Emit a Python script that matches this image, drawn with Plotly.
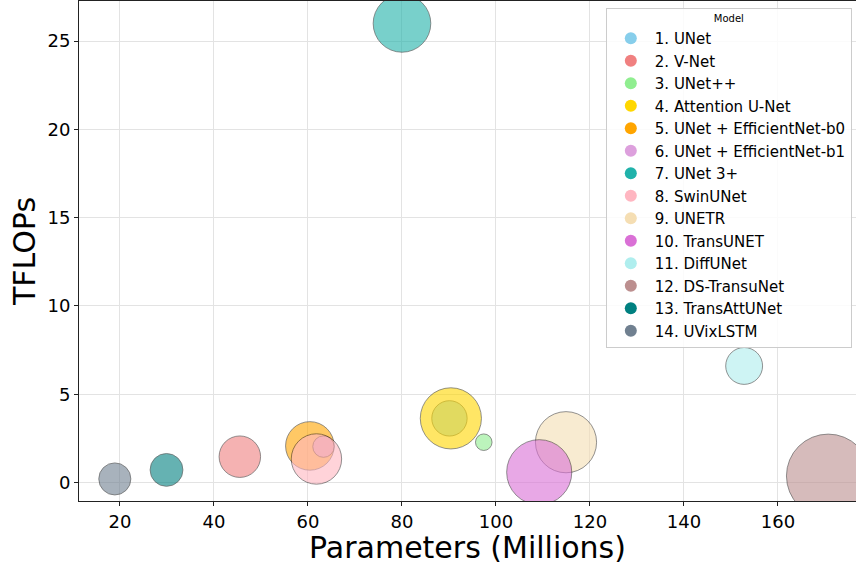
import plotly.graph_objects as go

models = ["1. UNet", "2. V-Net", "3. UNet++", "4. Attention U-Net",
          "5. UNet + EfficientNet-b0", "6. UNet + EfficientNet-b1", "7. UNet 3+",
          "8. SwinUNet", "9. UNETR", "10. TransUNET", "11. DiffUNet",
          "12. DS-TransuNet", "13. TransAttUNet", "14. UVixLSTM"]
params_m = [90.1, 45.5, 97.4, 90.4, 60.4, 63.3, 80.0, 61.8, 114.9, 109.2, 152.8, 170.7, 29.9, 18.9]
tflops = [3.63, 1.46, 2.28, 3.63, 2.07, 2.03, 26.0, 1.33, 2.28, 0.58, 6.6, 0.37, 0.71, 0.2]
bubble_values = [62.5, 86, 13.7, 187, 118, 23, 166, 127, 187, 212, 68, 350, 54, 51.5]
colors = ["#87CEEB", "#F08080", "#90EE90", "#FFD700", "#FFA500", "#DDA0DD", "#20B2AA",
          "#FFB6C1", "#F5DEB3", "#DA70D6", "#AFEEEE", "#BC8F8F", "#008080", "#708090"]

fig = go.Figure()
for name, x, y, s, c in zip(models, params_m, tflops, bubble_values, colors):
    fig.add_trace(go.Scatter(
        x=[x], y=[y], mode="markers", name=name, showlegend=False,
        marker=dict(size=[s], sizemode="area", sizeref=0.1, color=c, opacity=0.6,
                    line=dict(color="rgba(0,0,0,0.7)", width=1)),
    ))
for name, c in zip(models, colors):
    fig.add_trace(go.Scatter(
        x=[None], y=[None], mode="markers", name=name, showlegend=True,
        marker=dict(size=10, color=c, line=dict(width=0)),
    ))

font_family = "DejaVu Sans"
fig.update_layout(
    width=856, height=565,
    margin=dict(l=79, r=0, t=1, b=64, autoexpand=False),
    paper_bgcolor="white", plot_bgcolor="white",
    font=dict(family=font_family, color="black"),
    legend=dict(
        title=dict(text="Model", font=dict(size=10), side="top center"),
        font=dict(size=15), x=0.678, y=0.986, xanchor="left", yanchor="top",
        bgcolor="rgba(255,255,255,0.85)", bordercolor="#cccccc", borderwidth=1,
        itemsizing="constant", itemwidth=38,
    ),
    xaxis=dict(
        range=[11.28, 176.6], dtick=20, tick0=0,
        showgrid=True, gridcolor="#e3e3e3", gridwidth=1, zeroline=False,
        showline=True, linecolor="#222", linewidth=1, mirror=True,
        ticks="outside", ticklen=4, tickcolor="#222",
        tickfont=dict(size=18),
        title=dict(text="Parameters (Millions)", font=dict(size=30), standoff=4),
    ),
    yaxis=dict(
        range=[-1.05, 27.27], dtick=5, tick0=0,
        showgrid=True, gridcolor="#e3e3e3", gridwidth=1, zeroline=False,
        showline=True, linecolor="#222", linewidth=1,
        ticks="outside", ticklen=4, tickcolor="#222",
        tickfont=dict(size=18),
        title=dict(text="TFLOPs", font=dict(size=30), standoff=2),
    ),
)
fig.write_html("out.html", config={"displayModeBar": False},
               post_script="document.body.style.margin='0';document.body.style.overflow='hidden';")
